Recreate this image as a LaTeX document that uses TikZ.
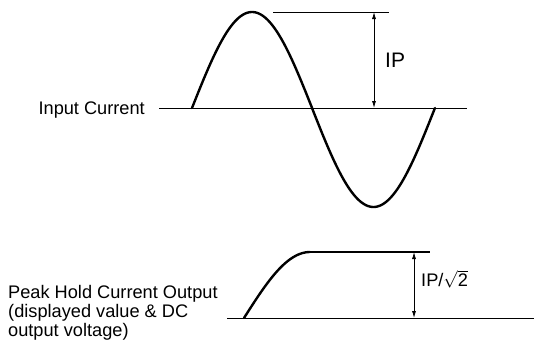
\documentclass[tikz,border=0pt]{standalone}
\usepackage{fontspec}
\setmainfont{Liberation Sans}
\usetikzlibrary{arrows.meta}
\tikzset{
  wave/.style={line width=2.4pt, line cap=round, line join=round},
  axisline/.style={line width=1pt},
  dim/.style={line width=0.8pt, {Latex[length=7pt,width=4pt]}-{Latex[length=7pt,width=4pt]}},
  lbl/.style={inner sep=0pt, font=\fontsize{18.2}{19}\selectfont},
}
\begin{document}
\begin{tikzpicture}[x=1pt,y=-1pt]
\useasboundingbox (0,0) rectangle (534,343);
% top: input current
\coordinate (ax1s) at (159,108);
\coordinate (ax1e) at (467,108);
\draw[axisline] (ax1s) -- (ax1e);
\draw[wave] plot[domain=0:180,samples=60,variable=\t] ({192+\t*0.667},{108-96*sin(\t)});
\draw[wave] plot[domain=180:360,samples=60,variable=\t] ({312+(\t-180)*0.683},{108-99*sin(\t)});
\coordinate (pk1s) at (273,12);
\coordinate (pk1e) at (389,12);
\draw[axisline] (pk1s) -- (pk1e);
\coordinate (a1t) at (374,12);
\coordinate (a1b) at (374,108);
\draw[dim] (a1t) -- (a1b);
\node[lbl, anchor=west, font=\fontsize{21}{22}\selectfont] (ip) at (385,60) {IP};
\node[lbl, anchor=base east] (inp) at (145,114) {Input Current};
% bottom: peak hold output
\coordinate (ax2s) at (227,318);
\coordinate (ax2e) at (534,318);
\draw[axisline] (ax2s) -- (ax2e);
\draw[wave] plot[domain=0:90,samples=40,variable=\t] ({244+\t*66/90},{318-66*sin(\t)});
\coordinate (pl2s) at (309,252);
\coordinate (pl2e) at (430,252);
\draw[line width=1.4pt] (pl2s) -- (pl2e);
\coordinate (a2t) at (414,252);
\coordinate (a2b) at (414,318);
\draw[dim] (a2t) -- (a2b);
\node[lbl, anchor=west] (ipr) at (421,279) {IP/$\sqrt{\hbox{2}}$};
\node[lbl, anchor=north west, align=left] (pho) at (8,285) {Peak Hold Current Output\\(displayed value \& DC\\output voltage)};
\end{tikzpicture}
\end{document}
